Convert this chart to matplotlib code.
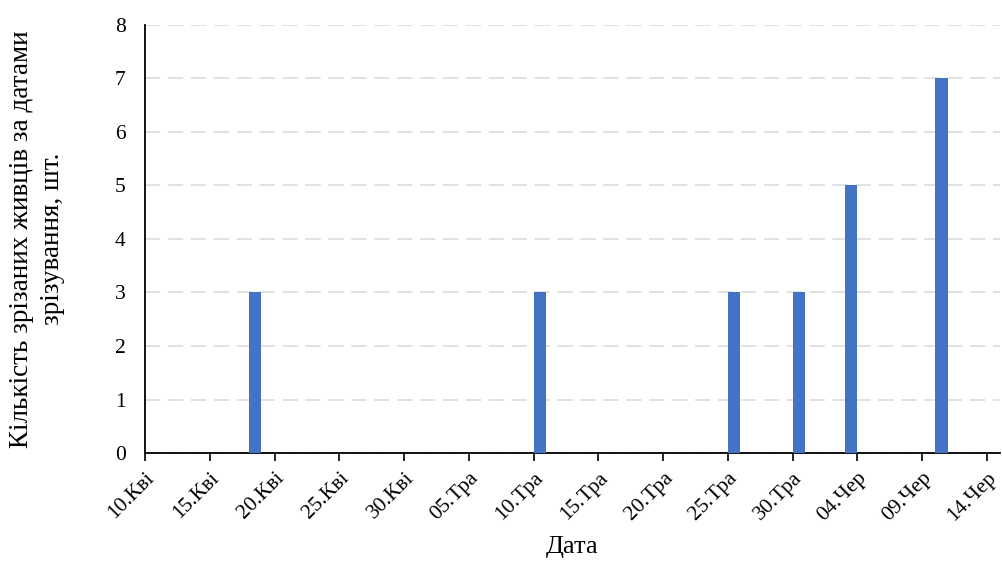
"""Bar chart: number of cut cuttings by cutting date."""

from datetime import date, timedelta

import matplotlib
matplotlib.use("Agg")
import matplotlib.dates as mdates
import matplotlib.pyplot as plt

# data
cut_dates = [date(2021, 4, 18), date(2021, 5, 10), date(2021, 5, 25),
             date(2021, 5, 30), date(2021, 6, 3), date(2021, 6, 10)]
cut_counts = [3, 3, 3, 3, 5, 7]

tick_dates = [date(2021, 4, 10) + timedelta(days=5 * i) for i in range(14)]
tick_labels = ["10.Кві", "15.Кві", "20.Кві", "25.Кві", "30.Кві", "05.Тра", "10.Тра",
               "15.Тра", "20.Тра", "25.Тра", "30.Тра", "04.Чер", "09.Чер", "14.Чер"]
x_start, x_end = date(2021, 4, 10), date(2021, 6, 15)

plt.rcParams["font.family"] = ["Liberation Serif", "DejaVu Serif"]

fig = plt.figure(figsize=(10.03, 5.64), dpi=100)
ax = fig.add_axes([0.1446, 0.1968, 0.8524, 0.7589])

ax.bar(mdates.date2num(cut_dates), cut_counts, width=0.95, align="edge",
       color="#4472C4", zorder=3)

ax.set_xlim(mdates.date2num(x_start), mdates.date2num(x_end))
ax.set_ylim(0, 8)
ax.set_yticks(range(0, 9))
ax.set_xticks(mdates.date2num(tick_dates))
ax.set_xticklabels(tick_labels, rotation=45, ha="right", va="top",
                   rotation_mode="anchor")

ax.yaxis.grid(True, color="#D9D9D9", linewidth=1.1, dashes=(10, 5), zorder=0)
ax.tick_params(axis="y", length=0, pad=14, labelsize=15.5)
ax.tick_params(axis="x", length=6, width=1.2, direction="out", pad=5, labelsize=15.5)

for side in ("top", "right"):
    ax.spines[side].set_visible(False)
for side in ("left", "bottom"):
    ax.spines[side].set_linewidth(1.3)
    ax.spines[side].set_color("black")

ax.set_xlabel("Дата", fontsize=19, labelpad=8)
ax.set_ylabel("Кількість зрізаних живців за датами\nзрізування, шт.",
              fontsize=19.5, linespacing=1.3)
ax.yaxis.set_label_coords(-0.094, 0.5)

fig.savefig("out.png", dpi=100)
